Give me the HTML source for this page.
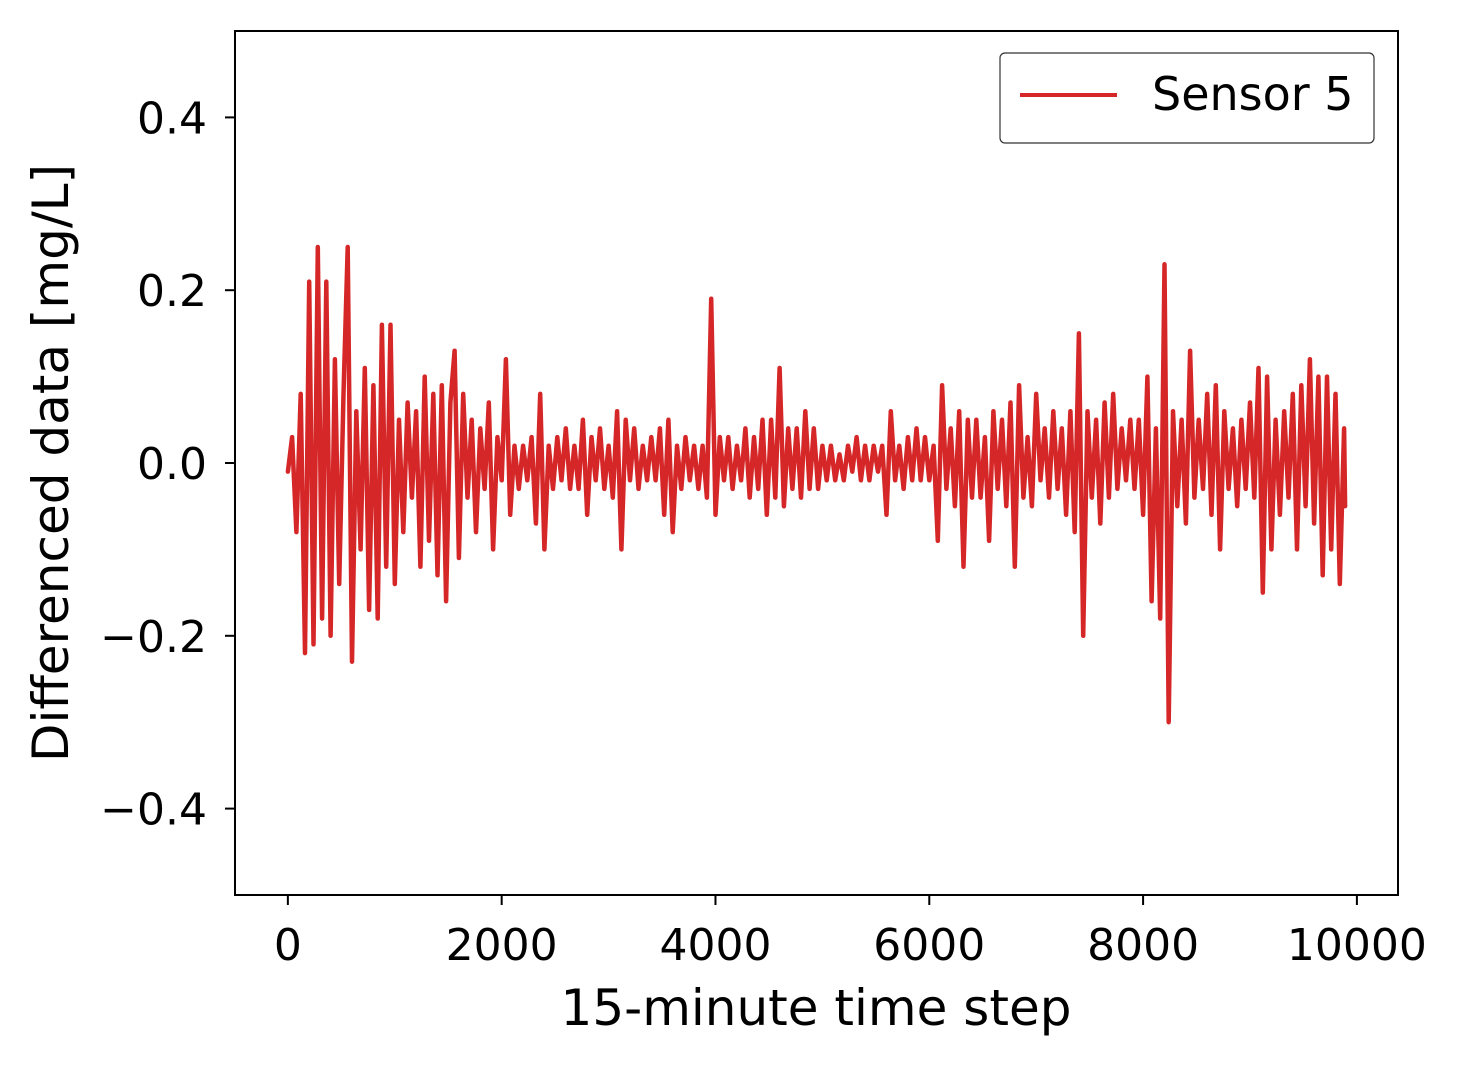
<!DOCTYPE html>
<html><head><meta charset="utf-8"><style>
body{margin:0;background:#fff}
svg{display:block;font-family:"DejaVu Sans","Liberation Sans",sans-serif}
</style></head><body>
<svg id="chart" width="1461" height="1065" xmlns="http://www.w3.org/2000/svg">
<rect width="1461" height="1065" fill="#fff"/>
<g id="marks"></g>
<rect x="235" y="31" width="1163" height="864" fill="none" stroke="#000" stroke-width="2"/>
<g id="xticks"></g>
<g id="yticks"></g>
<text x="816" y="1025" font-size="50" text-anchor="middle">15-minute time step</text>
<text x="0" y="0" font-size="50" text-anchor="middle" transform="translate(68,463) rotate(-90)">Differenced data [mg/L]</text>
<g>
<rect x="1000" y="53" width="374" height="90" rx="5" fill="#fff" stroke="#333" stroke-width="1.2"/>
<line x1="1020" y1="95" x2="1117" y2="95" stroke="#d62728" stroke-width="4"/>
<text x="1152" y="110" font-size="46">Sensor 5</text>
</g>
</svg>
<script>
const values = [
-0.01,0.03,-0.08,0.08,-0.22,0.21,-0.21,0.25,-0.18,0.21,
-0.2,0.12,-0.14,0.08,0.25,-0.23,0.06,-0.1,0.11,-0.17,
0.09,-0.18,0.16,-0.12,0.16,-0.14,0.05,-0.08,0.07,-0.04,
0.06,-0.12,0.1,-0.09,0.08,-0.13,0.09,-0.16,0.07,0.13,
-0.11,0.08,-0.04,0.05,-0.08,0.04,-0.03,0.07,-0.1,0.03,
-0.02,0.12,-0.06,0.02,-0.03,0.02,-0.02,0.03,-0.07,0.08,
-0.1,0.02,-0.03,0.03,-0.02,0.04,-0.03,0.02,-0.03,0.05,
-0.06,0.03,-0.02,0.04,-0.03,0.02,-0.04,0.06,-0.1,0.05,
-0.02,0.04,-0.03,0.02,-0.02,0.03,-0.02,0.04,-0.06,0.05,
-0.08,0.02,-0.03,0.03,-0.02,0.02,-0.03,0.02,-0.04,0.19,
-0.06,0.03,-0.02,0.03,-0.03,0.02,-0.02,0.04,-0.04,0.03,
-0.03,0.05,-0.06,0.05,-0.04,0.11,-0.05,0.04,-0.03,0.04,
-0.04,0.06,-0.03,0.04,-0.03,0.02,-0.02,0.02,-0.02,0.01,
-0.02,0.02,-0.01,0.03,-0.02,0.02,-0.02,0.02,-0.01,0.02,
-0.06,0.06,-0.02,0.02,-0.03,0.03,-0.02,0.04,-0.02,0.03,
-0.02,0.02,-0.09,0.09,-0.03,0.04,-0.05,0.06,-0.12,0.05,
-0.04,0.05,-0.04,0.03,-0.09,0.06,-0.03,0.05,-0.05,0.07,
-0.12,0.09,-0.04,0.03,-0.05,0.08,-0.02,0.04,-0.04,0.06,
-0.03,0.04,-0.06,0.06,-0.08,0.15,-0.2,0.06,-0.04,0.05,
-0.07,0.07,-0.04,0.08,-0.03,0.04,-0.02,0.05,-0.03,0.05,
-0.06,0.1,-0.16,0.04,-0.18,0.23,-0.3,0.06,-0.05,0.05,
-0.07,0.13,-0.04,0.05,-0.03,0.08,-0.06,0.09,-0.1,0.06,
-0.03,0.04,-0.05,0.05,-0.03,0.07,-0.04,0.11,-0.15,0.1,
-0.1,0.05,-0.06,0.06,-0.04,0.08,-0.1,0.09,-0.05,0.12,
-0.07,0.1,-0.13,0.1,-0.1,0.08,-0.14,0.04,-0.05
];
const stepSize = 40;
const xTickValues = [0,2000,4000,6000,8000,10000];
const xTickLabels = ["0","2000","4000","6000","8000","10000"];
const yTickValues = [0.4,0.2,0.0,-0.2,-0.4];
const yTickLabels = ["0.4","0.2","0.0","\u22120.2","\u22120.4"];

const NS="http://www.w3.org/2000/svg";
const L=235,R=1398,T=31,B=895;
const steps = values.map((v,i)=>Math.min(i*stepSize,9890));
const xmax = 9890, pad = xmax*0.05;
const sx = x => L + (x+pad)/(xmax+2*pad)*(R-L);
const sy = y => B - (y+0.5)/1.0*(B-T);

const marks=document.getElementById('marks');
const p=document.createElementNS(NS,'path');


p.setAttribute('d',values.map((v,i)=>(i?'L':'M')+sx(steps[i]).toFixed(1)+','+sy(v).toFixed(1)).join(''));
p.setAttribute('fill','none');p.setAttribute('stroke','#d62728');
p.setAttribute('stroke-width','4.5');p.setAttribute('stroke-linejoin','round');p.setAttribute('stroke-linecap','round');
marks.appendChild(p);

const xg=document.getElementById('xticks');
xTickValues.forEach((v,i)=>{
  const x=sx(v);
  const l=document.createElementNS(NS,'line');
  
  
  l.setAttribute('x1',x);l.setAttribute('x2',x);l.setAttribute('y1',B);l.setAttribute('y2',B+10);
  l.setAttribute('stroke','#000');l.setAttribute('stroke-width','2');
  xg.appendChild(l);
  const t=document.createElementNS(NS,'text');
  
  
  t.setAttribute('x',x);t.setAttribute('y',B+65);t.setAttribute('font-size','44');t.setAttribute('text-anchor','middle');
  t.textContent=xTickLabels[i];xg.appendChild(t);
});
const yg=document.getElementById('yticks');
yTickValues.forEach((v,i)=>{
  const y=sy(v);
  const l=document.createElementNS(NS,'line');
  
  
  l.setAttribute('x1',L-10);l.setAttribute('x2',L);l.setAttribute('y1',y);l.setAttribute('y2',y);
  l.setAttribute('stroke','#000');l.setAttribute('stroke-width','2');
  yg.appendChild(l);
  const t=document.createElementNS(NS,'text');
  
  
  t.setAttribute('x',L-28);t.setAttribute('y',y+16);t.setAttribute('font-size','44');t.setAttribute('text-anchor','end');
  t.textContent=yTickLabels[i];yg.appendChild(t);
});
</script>
</body></html>
